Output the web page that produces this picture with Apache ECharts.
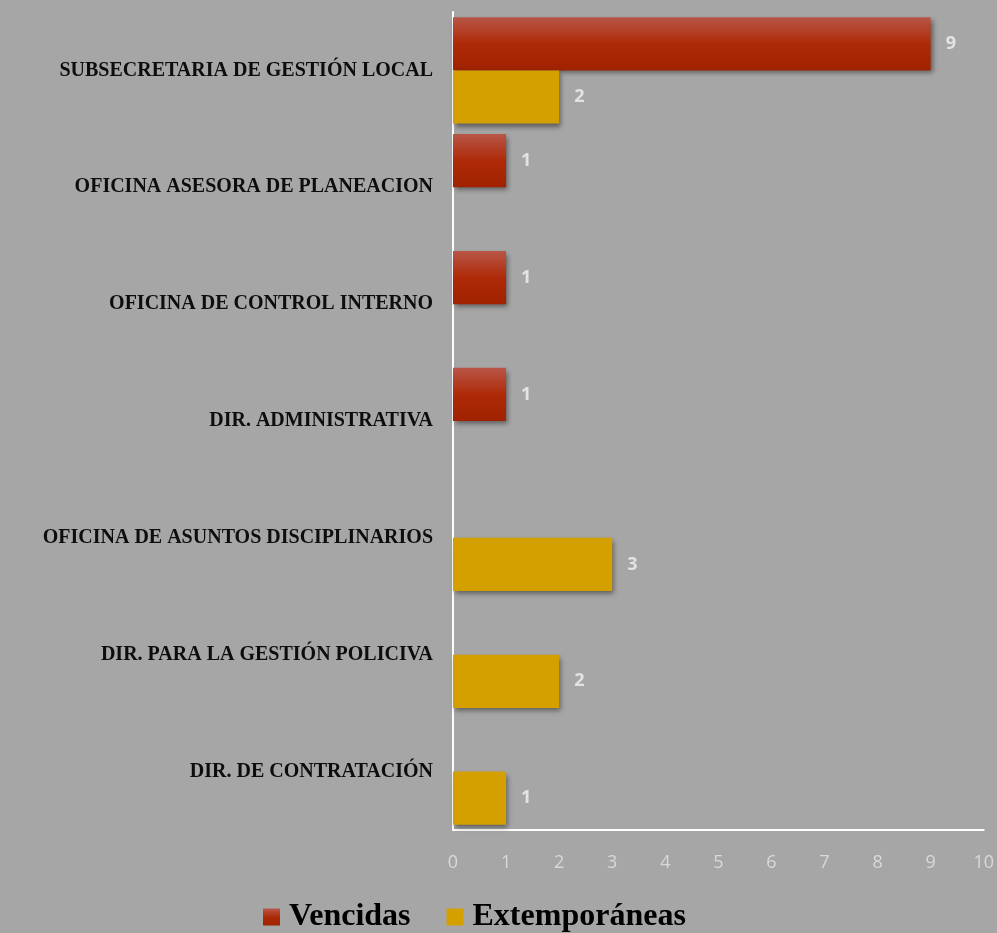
<!DOCTYPE html>
<html>
<head>
<meta charset="utf-8">
<script src="https://cdn.jsdelivr.net/npm/echarts@6/dist/echarts.min.js"></script>
<style>
  html, body { margin: 0; padding: 0; background: #a6a6a6; }
  #chart { width: 997px; height: 933px; }
</style>
</head>
<body>
<div id="chart"></div>
<script>
// categorías (de arriba a abajo)
const categories = [
  'SUBSECRETARIA DE GESTIÓN LOCAL',
  'OFICINA ASESORA DE PLANEACION',
  'OFICINA DE CONTROL INTERNO',
  'DIR. ADMINISTRATIVA',
  'OFICINA DE ASUNTOS DISCIPLINARIOS',
  'DIR. PARA LA GESTIÓN POLICIVA',
  'DIR. DE CONTRATACIÓN'
]
const vencidas = [9, 1, 1, 1, 0, 0, 0]
const extemporaneas = [2, 0, 0, 0, 3, 2, 1]
const xTicks = [0, 1, 2, 3, 4, 5, 6, 7, 8, 9, 10]

const chart = echarts.init(document.getElementById('chart'))

const valueLabel = {
  show: true,
  position: 'right',
  distance: 15,
  color: '#e3e3e3',
  fontFamily: 'Open Sans',
  fontWeight: 'bold',
  fontSize: 18,
  formatter: (p) => (p.value === 0 ? '' : p.value)
}

const barShadow = {
  shadowColor: 'rgba(0,0,0,0.45)',
  shadowBlur: 5,
  shadowOffsetX: 2,
  shadowOffsetY: 3
}

chart.setOption({
  backgroundColor: '#a6a6a6',
  animation: false,
  grid: { left: 453, right: 13, top: 12, bottom: 103, containLabel: false },
  legend: {
    bottom: -5,
    left: 258,
    icon: 'rect',
    itemWidth: 17,
    itemHeight: 17,
    itemGap: 36,
    textStyle: {
      fontFamily: 'Liberation Serif',
      fontWeight: 'bold',
      fontSize: 32,
      color: '#000',
      padding: [0, 0, 0, 4]
    },
    data: ['Vencidas', 'Extemporáneas']
  },
  xAxis: {
    type: 'value',
    min: xTicks[0],
    max: xTicks[xTicks.length - 1],
    interval: 1,
    axisLine: { show: true, lineStyle: { color: '#ffffff', width: 2 } },
    axisTick: { show: false },
    splitLine: { show: false },
    axisLabel: {
      color: '#d9d9d9',
      fontFamily: 'Open Sans',
      fontSize: 18,
      margin: 24
    }
  },
  yAxis: {
    type: 'category',
    inverse: true,
    data: categories,
    axisLine: { show: true, lineStyle: { color: '#ffffff', width: 2 } },
    axisTick: { show: false },
    axisLabel: {
      color: '#0d0d0d',
      fontFamily: 'Liberation Serif',
      fontWeight: 'bold',
      fontSize: 20,
      margin: 20
    }
  },
  series: [
    {
      name: 'Vencidas',
      type: 'bar',
      data: vencidas,
      barGap: '0%',
      barCategoryGap: '9%',
      label: valueLabel,
      itemStyle: Object.assign({
        color: new echarts.graphic.LinearGradient(0, 0, 0, 1, [
          { offset: 0, color: '#b85648' },
          { offset: 0.5, color: '#ae2a08' },
          { offset: 1, color: '#a02200' }
        ])
      }, barShadow)
    },
    {
      name: 'Extemporáneas',
      type: 'bar',
      data: extemporaneas,
      barGap: '0%',
      barCategoryGap: '9%',
      label: valueLabel,
      itemStyle: Object.assign({ color: '#d4a000' }, barShadow)
    }
  ]
})
</script>
</body>
</html>
